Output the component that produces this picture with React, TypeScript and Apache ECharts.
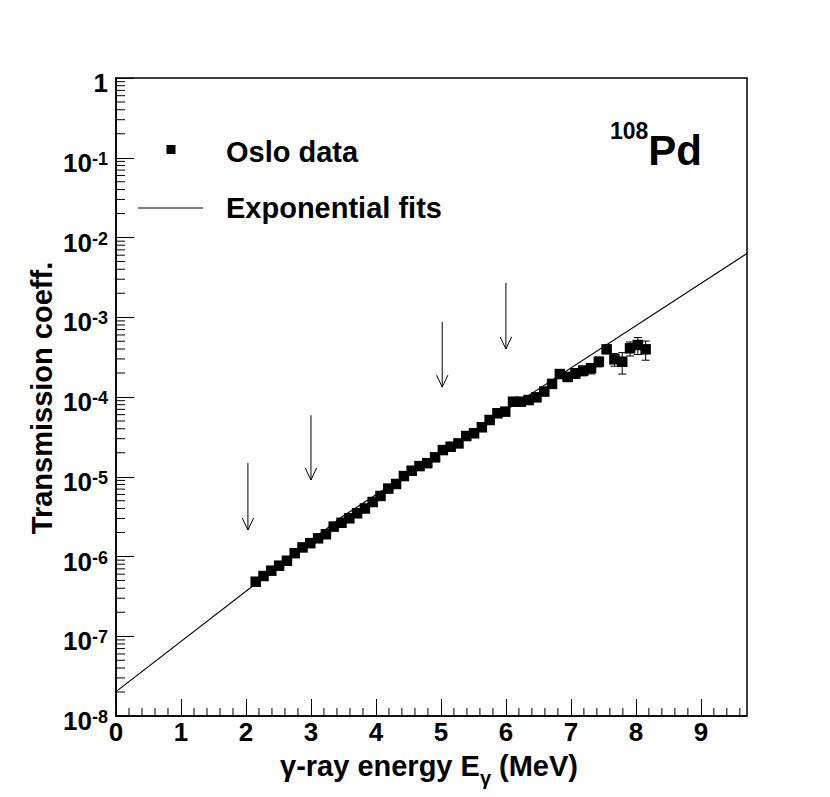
import React, { useEffect, useRef } from 'react';
import * as echarts from 'echarts';

const FONT = "'Liberation Sans', Arial, Helvetica, sans-serif";

// Oslo data (gamma-ray energy in MeV, transmission coefficient)
const energy = [
  2.15, 2.27, 2.39, 2.51, 2.63, 2.75, 2.87, 2.99, 3.11, 3.23,
  3.35, 3.47, 3.59, 3.71, 3.83, 3.95, 4.07, 4.19, 4.31, 4.43,
  4.55, 4.67, 4.79, 4.91, 5.03, 5.15, 5.27, 5.39, 5.51, 5.63,
  5.75, 5.87, 5.99, 6.11, 6.23, 6.35, 6.47, 6.59, 6.71, 6.83,
  6.95, 7.07, 7.19, 7.31, 7.43, 7.55, 7.67, 7.79, 7.91, 8.03, 8.15,
];
const transmission = [
  4.83e-7, 5.69e-7, 6.64e-7, 7.67e-7, 8.85e-7, 1.10e-6, 1.30e-6, 1.47e-6, 1.69e-6, 1.90e-6,
  2.37e-6, 2.65e-6, 3.01e-6, 3.48e-6, 4.00e-6, 4.82e-6, 5.74e-6, 7.10e-6, 8.11e-6, 1.02e-5,
  1.19e-5, 1.36e-5, 1.48e-5, 1.75e-5, 2.16e-5, 2.38e-5, 2.62e-5, 3.24e-5, 3.51e-5, 4.17e-5,
  5.15e-5, 6.25e-5, 6.55e-5, 8.73e-5, 8.73e-5, 9.16e-5, 9.91e-5, 1.17e-4, 1.46e-4, 1.94e-4,
  1.79e-4, 1.98e-4, 2.14e-4, 2.29e-4, 2.77e-4, 3.96e-4, 2.97e-4, 2.77e-4, 4.08e-4, 4.49e-4, 3.96e-4,
];
// relative uncertainties
const transRelErr = [
  0.03, 0.03, 0.03, 0.03, 0.03, 0.03, 0.03, 0.03, 0.03, 0.03,
  0.03, 0.03, 0.03, 0.03, 0.03, 0.03, 0.03, 0.03, 0.03, 0.03,
  0.03, 0.03, 0.03, 0.03, 0.03, 0.03, 0.03, 0.03, 0.03, 0.03,
  0.03, 0.03, 0.03, 0.03, 0.06, 0.06, 0.06, 0.06, 0.09, 0.10,
  0.13, 0.14, 0.14, 0.15, 0.14, 0.11, 0.18, 0.30, 0.20, 0.24, 0.27,
];

// exponential fits (straight on the log axis): low-energy fit, then high-energy fit
const fitEnergy = [0, 3.49, 9.71];
const fitValue = [2.02e-8, 3.19e-6, 6.31e-3];

// arrows marking the fit regions
const arrowEnergy = [2.03, 3.0, 5.02, 6.0];
const arrowTop = [1.49e-5, 5.9e-5, 8.7e-4, 2.7e-3];
const arrowTip = [2.15e-6, 9.1e-6, 1.33e-4, 4.0e-4];

const xTickLabels = ['0', '1', '2', '3', '4', '5', '6', '7', '8', '9'];
const yTickExponents = [0, -1, -2, -3, -4, -5, -6, -7, -8];

const X_MIN = 0;
const X_MAX = 9.71;
const Y_MIN = 1e-8;
const Y_MAX = 1;

export default function App() {
  const ref = useRef<HTMLDivElement>(null);

  useEffect(() => {
    if (!ref.current) return;
    const chart = echarts.init(ref.current, null, { renderer: 'svg' });

    const xMinor: number[][] = [];
    for (let i = 1; i < 49; i++) if (i % 5 !== 0) xMinor.push([i * 0.2, Y_MIN]);
    const yMinor: number[][] = [];
    for (let n = -8; n < 0; n++) for (let k = 2; k <= 9; k++) yMinor.push([X_MIN, k * Math.pow(10, n)]);

    const black = '#000';

    const option: any = {
      animation: false,
      backgroundColor: '#fff',
      grid: {
        left: 116, right: 83, top: 78, bottom: 81,
        show: true, borderColor: black, borderWidth: 1.5,
      },
      xAxis: {
        type: 'value', min: X_MIN, max: X_MAX, interval: 1,
        axisLine: { show: true, lineStyle: { color: black, width: 1.5 } },
        axisTick: { show: true, inside: true, length: 17, lineStyle: { color: black, width: 1 } },
        splitLine: { show: false },
        axisLabel: {
          showMaxLabel: false,
          margin: 3,
          color: black, fontSize: 26, fontWeight: 'bold', fontFamily: FONT,
          formatter: (v: number) => {
            const r = Math.round(v);
            return Math.abs(v - r) < 1e-6 && xTickLabels[r] !== undefined ? xTickLabels[r] : '';
          },
        },
      },
      yAxis: {
        type: 'log', logBase: 10, min: Y_MIN, max: Y_MAX,
        axisLine: { show: true, lineStyle: { color: black, width: 1.5 } },
        axisTick: { show: true, inside: true, length: 18, lineStyle: { color: black, width: 1 } },
        splitLine: { show: false },
        axisLabel: {
          margin: 8,
          padding: [10, 0, 0, 0],
          formatter: (v: number) => {
            const e = Math.round(Math.log10(v));
            if (!yTickExponents.includes(e)) return '';
            return e === 0 ? '{b|1}' : '{b|10}{s|' + e + '}';
          },
          rich: {
            b: { fontSize: 26, lineHeight: 26, fontWeight: 'bold', fontFamily: FONT, color: black },
            s: { fontSize: 18, lineHeight: 18, verticalAlign: 'top', fontWeight: 'bold', fontFamily: FONT, color: black },
          },
        },
      },
      series: [
        {
          type: 'custom', silent: true, z: 1,
          data: xMinor, encode: { x: 0, y: 1 },
          renderItem: (_p: any, api: any) => {
            const p = api.coord([api.value(0), Y_MIN]);
            return { type: 'line', shape: { x1: p[0], y1: p[1], x2: p[0], y2: p[1] - 8 }, style: { stroke: black, lineWidth: 1 } };
          },
        },
        {
          type: 'custom', silent: true, z: 1,
          data: yMinor, encode: { x: 0, y: 1 },
          renderItem: (_p: any, api: any) => {
            const p = api.coord([X_MIN, api.value(1)]);
            return { type: 'line', shape: { x1: p[0], y1: p[1], x2: p[0] + 9, y2: p[1] }, style: { stroke: black, lineWidth: 1 } };
          },
        },
        {
          type: 'line', z: 2, symbol: 'none',
          data: fitEnergy.map((e, i) => [e, fitValue[i]]),
          lineStyle: { color: black, width: 1.2 },
        },
        {
          type: 'custom', silent: true, z: 3,
          data: energy.map((e, i) => [e, transmission[i], transmission[i] * transRelErr[i]]),
          encode: { x: 0, y: 1 },
          renderItem: (_p: any, api: any) => {
            const x = api.value(0), y = api.value(1), er = api.value(2);
            const hi = api.coord([x, y + er]);
            const lo = api.coord([x, y - er]);
            const c = 4;
            const st = { stroke: black, lineWidth: 1 };
            return {
              type: 'group',
              children: [
                { type: 'line', shape: { x1: hi[0], y1: hi[1], x2: lo[0], y2: lo[1] }, style: st },
                { type: 'line', shape: { x1: hi[0] - c, y1: hi[1], x2: hi[0] + c, y2: hi[1] }, style: st },
                { type: 'line', shape: { x1: lo[0] - c, y1: lo[1], x2: lo[0] + c, y2: lo[1] }, style: st },
              ],
            };
          },
        },
        {
          type: 'scatter', z: 4, symbol: 'rect', symbolSize: 10.5,
          data: energy.map((e, i) => [e, transmission[i]]),
          itemStyle: { color: black, opacity: 1 },
        },
        {
          type: 'custom', silent: true, z: 5,
          data: arrowEnergy.map((e, i) => [e, arrowTop[i], arrowTip[i]]),
          encode: { x: 0, y: [1, 2] },
          renderItem: (_p: any, api: any) => {
            const x = api.value(0);
            const top = api.coord([x, api.value(1)]);
            const tip = api.coord([x, api.value(2)]);
            const st = { stroke: black, lineWidth: 1, fill: 'none' };
            return {
              type: 'group',
              children: [
                { type: 'line', shape: { x1: top[0], y1: top[1], x2: tip[0], y2: tip[1] }, style: st },
                {
                  type: 'polyline',
                  shape: { points: [[tip[0] - 5.7, tip[1] - 12], [tip[0], tip[1]], [tip[0] + 5.7, tip[1] - 12]] },
                  style: st,
                },
              ],
            };
          },
        },
      ],
      graphic: [
        { type: 'rect', shape: { x: 166.5, y: 145, width: 9, height: 9 }, style: { fill: black } },
        {
          type: 'text', x: 226, y: 152,
          style: { text: 'Oslo data', fontSize: 29, fontWeight: 'bold', fontFamily: FONT, fill: black, align: 'left', verticalAlign: 'middle' },
        },
        { type: 'line', shape: { x1: 138, y1: 208, x2: 203, y2: 208 }, style: { stroke: black, lineWidth: 1 } },
        {
          type: 'text', x: 226, y: 208,
          style: { text: 'Exponential fits', fontSize: 29, fontWeight: 'bold', fontFamily: FONT, fill: black, align: 'left', verticalAlign: 'middle' },
        },
        {
          type: 'text', x: 610, y: 150,
          style: {
            text: '{sup|108}{pd|Pd}', align: 'left', verticalAlign: 'middle', fill: black,
            rich: {
              sup: { fontSize: 23, lineHeight: 23, verticalAlign: 'top', fontWeight: 'bold', fontFamily: FONT, fill: black },
              pd: { fontSize: 42, lineHeight: 62, fontWeight: 'bold', fontFamily: FONT, fill: black },
            },
          },
        },
        {
          type: 'text', x: 429, y: 778,
          style: {
            text: '{a|γ-ray energy E}{g|γ}{a| (MeV)}', align: 'center', verticalAlign: 'middle', fill: black,
            rich: {
              a: { fontSize: 29, lineHeight: 29, verticalAlign: 'top', fontWeight: 'bold', fontFamily: FONT, fill: black },
              g: { fontSize: 20, lineHeight: 53, fontWeight: 'bold', fontFamily: FONT, fill: black },
            },
          },
        },
        {
          type: 'text', x: 42, y: 398, rotation: Math.PI / 2,
          style: {
            text: 'Transmission coeff.', fontSize: 29, fontWeight: 'bold', fontFamily: FONT, fill: black,
            align: 'center', verticalAlign: 'middle',
          },
        },
      ],
    };

    chart.setOption(option);
    return () => chart.dispose();
  }, []);

  return (
    <div
      ref={ref}
      style={{ position: 'fixed', left: 0, top: 0, width: 830, height: 797, background: '#fff' }}
    />
  );
}
